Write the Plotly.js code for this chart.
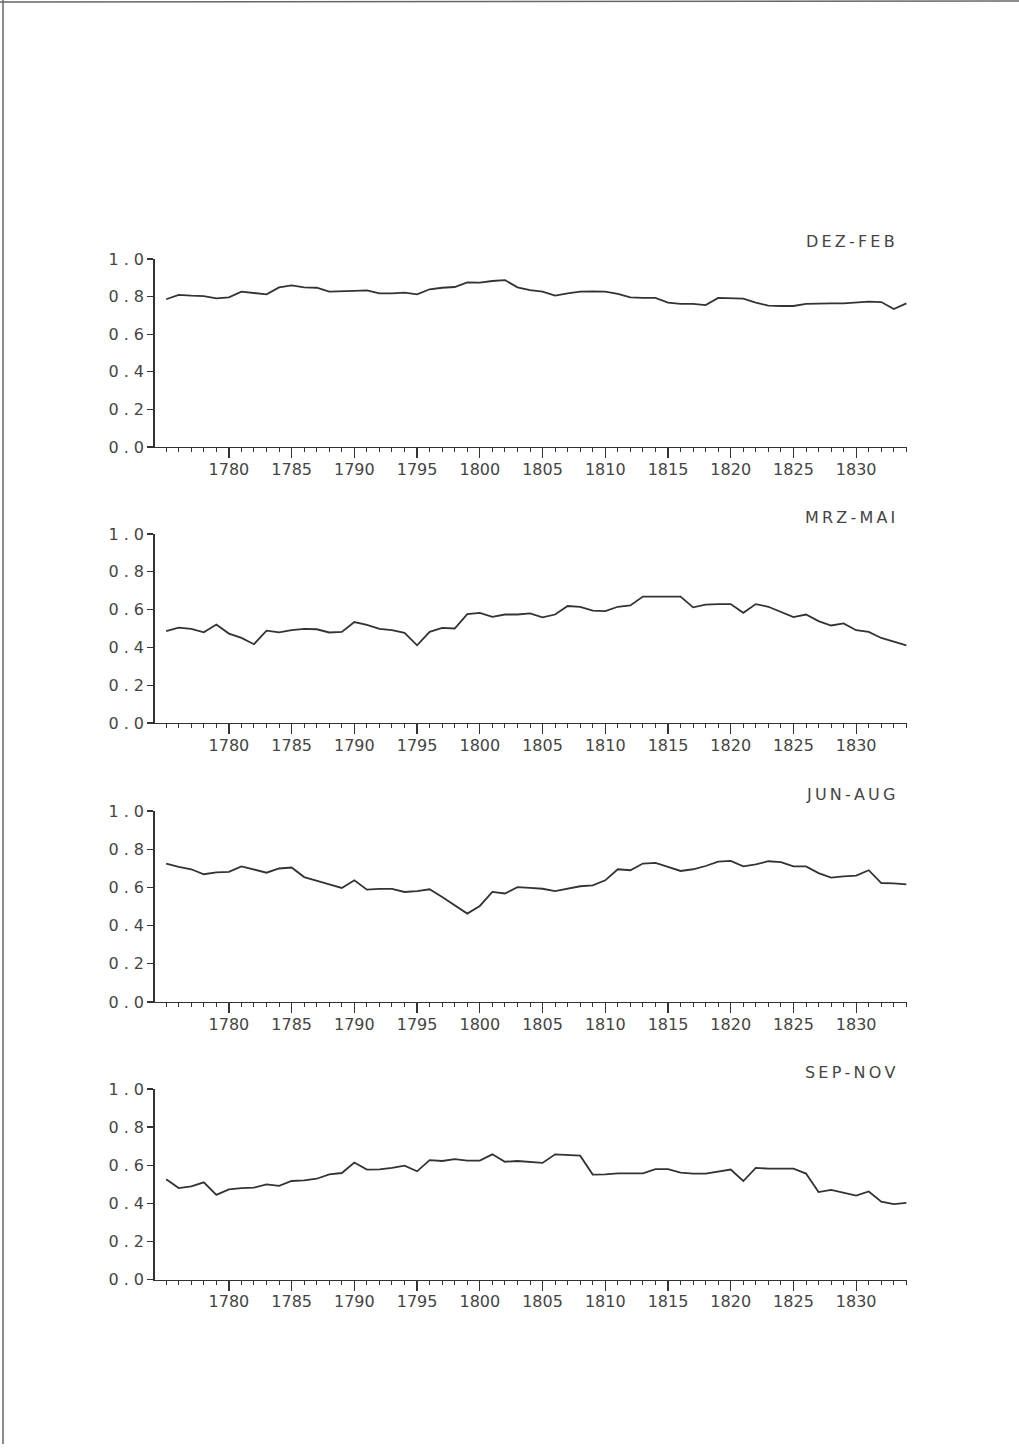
<!DOCTYPE html>
<html>
<head>
<meta charset="utf-8">
<script src="https://cdn.plot.ly/plotly-3.0.1.min.js"></script>
<style>
  html, body { margin: 0; padding: 0; background: #ffffff; }
  #chart { width: 1019px; height: 1448px; }
</style>
</head>
<body>
<div id="chart"></div>
<script>
// ---- data ----
const years = [1775,1776,1777,1778,1779,1780,1781,1782,1783,1784,
               1785,1786,1787,1788,1789,1790,1791,1792,1793,1794,
               1795,1796,1797,1798,1799,1800,1801,1802,1803,1804,
               1805,1806,1807,1808,1809,1810,1811,1812,1813,1814,
               1815,1816,1817,1818,1819,1820,1821,1822,1823,1824,
               1825,1826,1827,1828,1829,1830,1831,1832,1833,1834];

const seasonNames = ["DEZ-FEB", "MRZ-MAI", "JUN-AUG", "SEP-NOV"];

const dezFeb = [0.786,0.809,0.805,0.803,0.791,0.796,0.826,0.821,0.812,0.849,
                0.860,0.849,0.847,0.826,0.830,0.830,0.833,0.817,0.817,0.821,
                0.812,0.839,0.847,0.851,0.876,0.874,0.883,0.888,0.849,0.835,
                0.826,0.805,0.817,0.826,0.828,0.826,0.814,0.796,0.793,0.793,
                0.768,0.761,0.761,0.755,0.793,0.793,0.789,0.768,0.752,0.750,
                0.750,0.761,0.764,0.764,0.764,0.770,0.773,0.771,0.734,0.764];

const mrzMai = [0.486,0.505,0.498,0.480,0.521,0.473,0.450,0.417,0.489,0.480,
                0.491,0.498,0.496,0.479,0.482,0.534,0.519,0.498,0.491,0.477,
                0.411,0.482,0.503,0.500,0.576,0.583,0.562,0.574,0.574,0.580,
                0.559,0.574,0.619,0.615,0.595,0.592,0.615,0.622,0.669,0.669,
                0.669,0.669,0.612,0.626,0.629,0.629,0.583,0.629,0.615,0.587,
                0.560,0.574,0.539,0.516,0.527,0.491,0.482,0.450,0.429,0.411];

const junAug = [0.725,0.707,0.695,0.669,0.679,0.681,0.710,0.693,0.677,0.699,
                0.704,0.654,0.637,0.616,0.597,0.637,0.588,0.592,0.592,0.576,
                0.580,0.590,0.550,0.506,0.463,0.503,0.576,0.568,0.601,0.597,
                0.593,0.581,0.593,0.606,0.611,0.637,0.695,0.690,0.725,0.728,
                0.707,0.686,0.695,0.712,0.735,0.739,0.710,0.720,0.737,0.732,
                0.710,0.710,0.675,0.651,0.658,0.662,0.690,0.623,0.621,0.616];

const sepNov = [0.526,0.480,0.489,0.510,0.444,0.473,0.480,0.482,0.499,0.492,
                0.517,0.520,0.529,0.552,0.559,0.614,0.577,0.578,0.586,0.598,
                0.568,0.627,0.622,0.632,0.624,0.624,0.657,0.618,0.622,0.618,
                0.612,0.657,0.655,0.650,0.551,0.552,0.557,0.557,0.557,0.579,
                0.579,0.561,0.556,0.556,0.568,0.577,0.517,0.586,0.582,0.582,
                0.582,0.556,0.459,0.470,0.454,0.440,0.462,0.409,0.396,0.402];

const xMajorTicks = [1775,1780,1785,1790,1795,1800,1805,1810,1815,1820,1825,1830];
const xMajorLabels = ["","1780","1785","1790","1795","1800","1805","1810","1815","1820","1825","1830"];
const yTickVals = [0, 0.2, 0.4, 0.6, 0.8, 1.0];
const yTickLabels = ["0 . 0","0 . 2","0 . 4","0 . 6","0 . 8","1 . 0"];

// ---- layout geometry (pixels) ----
const W = 1019, H = 1448;
const xLeftPx = 154.5, xRightPx = 907;
const panelPx = [[259, 447], [534, 723], [811, 1002], [1089, 1279.5]]; // [top, bottom]
const series = [dezFeb, mrzMai, junAug, sepNov];

const ink = "#333333";
const font = { family: "DejaVu Sans, sans-serif", size: 16, color: "#454545" };

const data = [];
const layout = {
  width: W, height: H,
  margin: { l: 0, r: 0, t: 0, b: 0 },
  paper_bgcolor: "#ffffff",
  plot_bgcolor: "#ffffff",
  showlegend: false,
  font: font,
  annotations: [],
  shapes: [
    { type: "line", xref: "paper", yref: "paper", x0: 0, x1: 1, y0: 1 - 2 / H, y1: 1 - 1 / H,
      line: { color: "#666", width: 1.5 } },
    { type: "line", xref: "paper", yref: "paper", x0: 3 / W, x1: 3 / W, y0: 4 / H, y1: 1,
      line: { color: "#666", width: 1.5 } }
  ]
};

series.forEach((vals, i) => {
  const n = i + 1;
  const xa = n === 1 ? "xaxis" : "xaxis" + n;
  const ya = n === 1 ? "yaxis" : "yaxis" + n;
  const [topPx, botPx] = panelPx[i];
  data.push({
    type: "scatter", mode: "lines",
    x: years, y: vals,
    xaxis: "x" + (n === 1 ? "" : n), yaxis: "y" + (n === 1 ? "" : n),
    line: { color: ink, width: 1.8 },
    hoverinfo: "skip"
  });
  layout[xa] = {
    domain: [xLeftPx / W, xRightPx / W],
    anchor: "y" + (n === 1 ? "" : n),
    range: [1774.07, 1834.05],
    showgrid: false, zeroline: false,
    showline: true, linecolor: ink, linewidth: 1.3,
    ticks: "outside", ticklen: 10, tickwidth: 1.3, tickcolor: ink,
    tickmode: "array", tickvals: xMajorTicks, ticktext: xMajorLabels,
    ticklabelstandoff: -3,
    tickfont: font,
    minor: { tickmode: "array", tickvals: years, ticks: "outside", ticklen: 4,
             tickwidth: 1, tickcolor: ink, showgrid: false }
  };
  layout[ya] = {
    domain: [1 - botPx / H, 1 - topPx / H],
    anchor: "x" + (n === 1 ? "" : n),
    range: [0, 1],
    showgrid: false, zeroline: false,
    showline: true, linecolor: ink, linewidth: 1.3,
    ticks: "outside", ticklen: 6, tickwidth: 1.3, tickcolor: ink,
    tickmode: "array", tickvals: yTickVals, ticktext: yTickLabels,
    tickfont: font
  };
  layout.annotations.push({
    xref: "paper", yref: "paper",
    x: 897 / W, y: 1 - (topPx - 17) / H,
    xanchor: "right", yanchor: "middle",
    showarrow: false,
    text: seasonNames[i].split("").join("\u2009"),
    font: font
  });
});

Plotly.newPlot("chart", data, layout, { staticPlot: true, displayModeBar: false });
</script>
</body>
</html>
